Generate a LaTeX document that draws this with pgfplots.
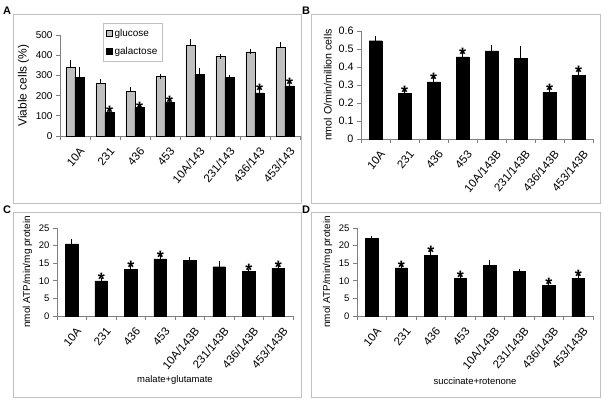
\documentclass[border=0pt]{standalone}
\usepackage{fontspec}
\setmainfont{Liberation Sans}
\usepackage{pgfplots}
\usepackage{pgfplotstable}
\pgfplotsset{compat=1.18}

\definecolor{glu}{RGB}{192,192,192}
\definecolor{axgray}{RGB}{128,128,128}
\definecolor{framegray}{RGB}{192,192,192}

% A: viable cells, glucose / galactose
\pgfplotstableread{
x glu gluerr gal galerr
0 338 27 290 40
1 261 10 116 3
2 221 10 140 9
3 294 2 165 3
4 450 17 304 21
5 394 2 289 2
6 417 2 213 18
7 437 15 248 6
}\dataA
\pgfplotstableread{
x y
1 127
2 145
3 173
6 236
7 261
}\starA

% B: oxygen consumption
\pgfplotstableread{
x y err
0 0.546 0.015
1 0.252 0.009
2 0.317 0.016
3 0.456 0.020
4 0.489 0.020
5 0.450 0.054
6 0.259 0.013
7 0.354 0.018
}\dataB
\pgfplotstableread{
x y
1 0.270
2 0.339
3 0.478
6 0.278
7 0.378
}\starB

% C: malate+glutamate
\pgfplotstableread{
x y err
0 20.5 0.8
1 10.0 0.2
2 13.2 0.7
3 16.2 0.75
4 15.9 0.2
5 14.0 0.8
6 12.7 0
7 13.5 0.4
}\dataC
\pgfplotstableread{
x y
1 10.8
2 14.2
3 17.2
6 13.4
7 14.3
}\starC

% D: succinate+rotenone
\pgfplotstableread{
x y err
0 22.0 0.1
1 13.7 0.2
2 17.3 0.9
3 10.75 0.4
4 14.3 1.0
5 12.7 0
6 8.7 0.35
7 10.75 0.55
}\dataD
\pgfplotstableread{
x y
1 14.4
2 18.4
3 11.5
6 9.4
7 11.8
}\starD

\pgfplotsset{
  panel/.style={
    scale only axis, anchor=south west, clip=false,
    axis lines=left, axis line style={-, draw=axgray, line width=0.8bp},
    tick align=outside, major tick length=4bp, minor tick length=4bp,
    ytick style={draw=axgray, line width=0.8bp},
    xmin=-0.5, xmax=7.5, ymin=0,
    xtick={0,...,7},
    major x tick style={draw=none},
    minor xtick={-0.5,0.5,...,7.5},
    minor x tick style={draw=axgray, line width=0.8bp},
    /pgf/number format/assume math mode=true,
    xticklabel style={font=\fontsize{11.5}{11.5}\selectfont, xshift=4bp, yshift=-6bp, rotate=50, anchor=north east, inner sep=0pt},
    ybar=0pt,
    bar width=12.5bp,
  },
  eb/.style={error bars/y dir=plus, error bars/y explicit,
    error bars/error mark options={mark size=2.5bp, black, line width=0.8bp},
    error bars/error bar style={draw=black, line width=0.8bp}},
  star/.style={draw=none, fill=none, forget plot,
    nodes near coords={\textbf{*}},
    every node near coord/.style={anchor=base, inner sep=0pt, yshift=-7.7bp, xshift=#1,
      font=\fontsize{18}{18}\selectfont, text=black}},
  star/.default=0bp,
}

\begin{document}
\begin{tikzpicture}
\useasboundingbox (0,0) rectangle (604bp,-402bp);
\fill[white] (0,0) rectangle (604bp,-402bp);

\draw[framegray, line width=0.8bp] (13bp,-14bp) rectangle (301bp,-203bp);
\draw[framegray, line width=0.8bp] (311bp,-14bp) rectangle (600bp,-203bp);
\draw[framegray, line width=0.8bp] (13bp,-212bp) rectangle (301bp,-397bp);
\draw[framegray, line width=0.8bp] (311bp,-212bp) rectangle (600bp,-397bp);

\node[anchor=base west, inner sep=0pt, font=\fontsize{11}{11}\selectfont\bfseries] at (3bp,-14bp) {A};
\node[anchor=base west, inner sep=0pt, font=\fontsize{11}{11}\selectfont\bfseries] at (302bp,-14bp) {B};
\node[anchor=base west, inner sep=0pt, font=\fontsize{11}{11}\selectfont\bfseries] at (3bp,-213bp) {C};
\node[anchor=base west, inner sep=0pt, font=\fontsize{11}{11}\selectfont\bfseries] at (302bp,-213bp) {D};

% ---- A ----
\begin{axis}[panel, at={(60bp,-136bp)}, width=240bp, height=101bp,
  ymax=500, ytick={0,100,...,500},
  yticklabel style={font=\fontsize{10}{10}\selectfont},
  ylabel={Viable cells (\%)}, ylabel style={font=\fontsize{12}{12}\selectfont},
  xticklabels={10A,231,436,453,10A/143,231/143,436/143,453/143},
  bar width=9bp,
  legend cell align=left,
  legend style={at={(axis description cs:0.179,1.119)}, anchor=north west,
    draw=framegray, fill=white, font=\fontsize{10}{10}\selectfont,
    inner xsep=3bp, inner ysep=4bp, row sep=5bp},
]
\addplot[fill=glu, draw=black, line width=0.5bp, bar shift=-4.5bp, eb,
  legend image code/.code={\draw[fill=glu, draw=black, line width=0.5bp] (0bp,-3bp) rectangle (6bp,3bp);}]
  table[x=x, y=glu, y error=gluerr] {\dataA};
\addlegendentry{glucose}
\addplot[fill=black, draw=black, line width=0.5bp, bar shift=4.5bp, eb,
  legend image code/.code={\draw[fill=black, draw=black] (0bp,-3bp) rectangle (6bp,3bp);}]
  table[x=x, y=gal, y error=galerr] {\dataA};
\addlegendentry{galactose}
\addplot[star=4.5bp, bar shift=4.5bp] table[x=x, y=y] {\starA};
\end{axis}

% ---- B ----
\begin{axis}[panel, at={(361bp,-139bp)}, width=232bp, height=108bp,
  ymax=0.6, ytick={0,0.1,0.2,0.3,0.4,0.5,0.6},
  yticklabel style={font=\fontsize{10.8}{10.8}\selectfont, /pgf/number format/fixed, /pgf/number format/precision=1},
  ylabel={nmol O/min/million cells}, ylabel style={font=\fontsize{10.7}{10.7}\selectfont},
  xticklabels={10A,231,436,453,10A/143B,231/143B,436/143B,453/143B},
  bar width=13bp,
]
\addplot[fill=black, draw=black, bar shift=0bp, eb] table[x=x, y=y, y error=err] {\dataB};
\addplot[star, bar shift=0bp] table[x=x, y=y] {\starB};
\end{axis}

% ---- C ----
\begin{axis}[panel, at={(57bp,-316bp)}, width=236bp, height=88bp,
  ymax=25, ytick={0,5,...,25},
  yticklabel style={font=\fontsize{9.5}{9.5}\selectfont},
  ylabel={nmol ATP/min/mg protein}, ylabel style={font=\fontsize{10}{10}\selectfont},
  xticklabels={10A,231,436,453,10A/143B,231/143B,436/143B,453/143B},
  xlabel={malate+glutamate},
  xlabel style={at={(axis description cs:0.5,0)}, anchor=center, yshift=-64bp, font=\fontsize{9.5}{9.5}\selectfont},
]
\addplot[fill=black, draw=black, bar shift=0bp, eb] table[x=x, y=y, y error=err] {\dataC};
\addplot[star, bar shift=0bp] table[x=x, y=y] {\starC};
\end{axis}

% ---- D ----
\begin{axis}[panel, at={(357bp,-316bp)}, width=236bp, height=88bp,
  ymax=25, ytick={0,5,...,25},
  yticklabel style={font=\fontsize{9.5}{9.5}\selectfont},
  ylabel={nmol ATP/min/mg protein}, ylabel style={font=\fontsize{10}{10}\selectfont},
  xticklabels={10A,231,436,453,10A/143B,231/143B,436/143B,453/143B},
  xlabel={succinate+rotenone},
  xlabel style={at={(axis description cs:0.5,0)}, anchor=center, yshift=-65bp, font=\fontsize{9.5}{9.5}\selectfont},
]
\addplot[fill=black, draw=black, bar shift=0bp, eb] table[x=x, y=y, y error=err] {\dataD};
\addplot[star, bar shift=0bp] table[x=x, y=y] {\starD};
\end{axis}
\end{tikzpicture}
\end{document}
